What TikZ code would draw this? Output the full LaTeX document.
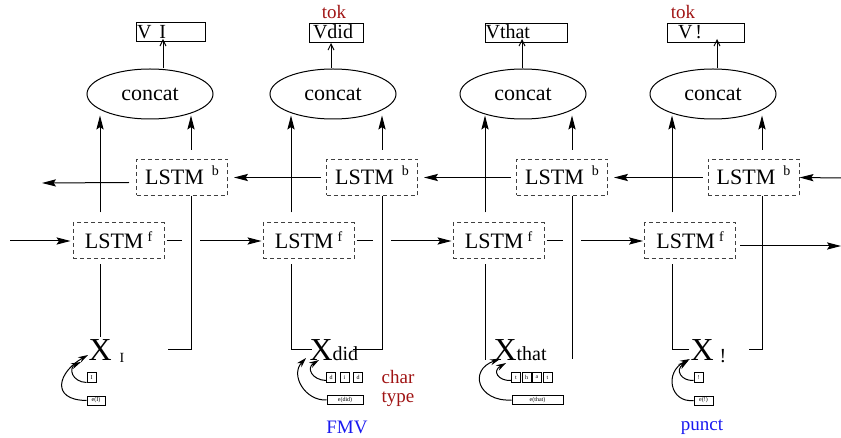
\documentclass[tikz,border=0pt]{standalone}
\usepackage{fontspec}
\setmainfont{Liberation Serif}
\usetikzlibrary{arrows.meta,shapes.geometric}
\definecolor{tokred}{RGB}{160,20,20}
\definecolor{lblblue}{RGB}{25,25,240}
\begin{document}
\begin{tikzpicture}[x=0.5pt,y=-0.5pt, line width=0.5pt,
  lstm/.style={draw=black!75, dash pattern=on 2pt off 1.5pt, minimum width=45.5pt, minimum height=18pt, inner sep=0pt, text height=7.3pt, text depth=0pt, font=\fontsize{11}{11}\selectfont},
  concatnode/.style={ellipse, draw, minimum width=63pt, minimum height=25pt, inner sep=0pt, font=\fontsize{11}{11}\selectfont},
  topbox/.style={draw, minimum height=9.5pt, inner ysep=0.75pt, text height=7pt, text depth=1pt, align=left, font=\fontsize{10}{10}\selectfont},
  xnode/.style={inner sep=0pt, anchor=base west},
  cbox/.style={draw, minimum width=4.5pt, minimum height=4.5pt, inner sep=0pt, font=\fontsize{3}{3}\selectfont},
  tbox/.style={draw, minimum height=4.5pt, inner sep=0pt, font=\fontsize{3}{3}\selectfont},
  arr/.style={-{Stealth[length=7pt,width=3.6pt,inset=1.2pt]}},
  openarr/.style={-{Straight Barb[length=3pt,width=3pt]}},
  curvarr/.style={-{Stealth[length=5pt,width=3pt]}},
  redlbl/.style={text=tokred, inner sep=0pt, font=\fontsize{9.5}{9.5}\selectfont},
  bluelbl/.style={text=lblblue, inner sep=0pt, font=\fontsize{9.5}{9.5}\selectfont},
]
\useasboundingbox (0,0) rectangle (841,438);

% column x positions
\coordinate (L1) at (100,0); \coordinate (R1) at (191,0);
\coordinate (L2) at (291,0); \coordinate (R2) at (382,0);
\coordinate (L3) at (485,0); \coordinate (R3) at (572,0);
\coordinate (L4) at (672,0); \coordinate (R4) at (762,0);

% top boxes
\node[topbox, minimum width=34.5pt, inner xsep=0.5pt, text width=33.5pt] (v1) at (170.5,32.5) {V\hspace{4pt}I};
\node[topbox, minimum width=27pt, inner xsep=2pt, text width=23pt] (v2) at (336,33) {Vdid};
\node[topbox, minimum width=41pt, inner xsep=0.3pt, text width=40.4pt] (v3) at (526,33) {Vthat};
\node[topbox, minimum width=38.5pt, inner xsep=5.5pt, text width=27.5pt] (v4) at (705.5,33) {V\hspace{1.5pt}!};

\node[redlbl] (tok2) at (334,12) {tok};
\node[redlbl] (tok4) at (683,12) {tok};

% concat
\node[concatnode] (cc1) at (150,94) {concat};
\node[concatnode] (cc2) at (333,94) {concat};
\node[concatnode] (cc3) at (523,94) {concat};
\node[concatnode] (cc4) at (713,94) {concat};

% LSTM b
\node[lstm] (lb1) at (182,177.5) {LSTM\hspace{4pt}\raisebox{4.5pt}{\fontsize{7}{7}\selectfont b}};
\node[lstm] (lb2) at (372,177.5) {LSTM\hspace{4pt}\raisebox{4.5pt}{\fontsize{7}{7}\selectfont b}};
\node[lstm] (lb3) at (562,177.5) {LSTM\hspace{4pt}\raisebox{4.5pt}{\fontsize{7}{7}\selectfont b}};
\node[lstm] (lb4) at (753.5,177.5) {LSTM\hspace{4pt}\raisebox{4.5pt}{\fontsize{7}{7}\selectfont b}};

% LSTM f
\node[lstm] (lf1) at (118.5,241) {LSTM\hspace{2pt}\raisebox{3.5pt}{\fontsize{7}{7}\selectfont f}};
\node[lstm] (lf2) at (308.5,241) {LSTM\hspace{2pt}\raisebox{3.5pt}{\fontsize{7}{7}\selectfont f}};
\node[lstm] (lf3) at (498.5,241) {LSTM\hspace{2pt}\raisebox{3.5pt}{\fontsize{7}{7}\selectfont f}};
\node[lstm] (lf4) at (690,241) {LSTM\hspace{2pt}\raisebox{3.5pt}{\fontsize{7}{7}\selectfont f}};

% X nodes
\node[xnode] (x1) at (88,360) {{\fontsize{16}{16}\selectfont X}\hspace{4pt}\raisebox{-1.5pt}{\fontsize{7}{7}\selectfont I}};
\node[xnode] (x2) at (309,361) {{\fontsize{16}{16}\selectfont X}{\fontsize{10}{10}\selectfont did}};
\node[xnode] (x3) at (493,361) {{\fontsize{16}{16}\selectfont X}{\fontsize{10}{10}\selectfont that}};
\node[xnode] (x4) at (690,360) {{\fontsize{16}{16}\selectfont X}\hspace{3pt}\raisebox{-1.5pt}{\fontsize{10}{10}\selectfont !}};

% char / type boxes
\node[cbox] (c1a) at (91.5,377.5) {I};
\node[tbox, minimum width=9pt] (t1) at (96,400.5) {e(I)};
\node[cbox] (c2a) at (331,377.5) {d};
\node[cbox] (c2b) at (344.5,377.5) {i};
\node[cbox] (c2c) at (358,377.5) {d};
\node[tbox, minimum width=18pt] (t2) at (345,400) {e(did)};
\node[cbox] (c3a) at (516,377.5) {t};
\node[cbox] (c3b) at (526.5,377.5) {h};
\node[cbox] (c3c) at (537,377.5) {a};
\node[cbox] (c3d) at (547.5,377.5) {t};
\node[tbox, minimum width=25.5pt] (t3) at (537.5,400) {e(that)};
\node[cbox] (c4a) at (698.5,377.5) {!};
\node[tbox, minimum width=9.5pt] (t4) at (703.5,400.5) {e(!)};

\node[redlbl] (charl) at (398,377) {char};
\node[redlbl] (typel) at (398,399) {type};
\node[bluelbl] (fmv) at (347,427) {FMV};
\node[bluelbl] (punct) at (702,427) {punct};

% arrows to top boxes
\coordinate (a1) at (163,39); \coordinate (a2) at (331,43);
\coordinate (a3) at (522,39); \coordinate (a4) at (717,39);
\draw[openarr] (a1 |- cc1.north) -- (a1);
\draw[openarr] (a2 |- cc2.north) -- (a2);
\draw[openarr] (a3 |- cc3.north) -- (a3);
\draw[openarr] (a4 |- cc4.north) -- (a4);

% arrows into concat
\draw[arr] ([yshift=5pt]lf1.north -| L1) -- ([yshift=2pt]L1 |- cc1.south);
\draw[arr] ([yshift=4.5pt]lb1.north -| R1) -- ([yshift=2pt]R1 |- cc1.south);
\draw[arr] ([yshift=5pt]lf2.north -| L2) -- ([yshift=2pt]L2 |- cc2.south);
\draw[arr] ([yshift=4.5pt]lb2.north -| R2) -- ([yshift=2pt]R2 |- cc2.south);
\draw[arr] ([yshift=5pt]lf3.north -| L3) -- ([yshift=2pt]L3 |- cc3.south);
\draw[arr] ([yshift=4.5pt]lb3.north -| R3) -- ([yshift=2pt]R3 |- cc3.south);
\draw[arr] ([yshift=5pt]lf4.north -| L4) -- ([yshift=2pt]L4 |- cc4.south);
\draw[arr] ([yshift=4.5pt]lb4.north -| R4) -- ([yshift=2pt]R4 |- cc4.south);

% lines from inputs
\coordinate (e1l) at (100,337); \coordinate (e1r) at (168,350);
\coordinate (e2l) at (312,350); \coordinate (e2r) at (353,350);
\coordinate (e3l) at (485,360); \coordinate (e3r) at (572,359);
\coordinate (e4l) at (689,350); \coordinate (e4r) at (749,350);
\draw ([yshift=-2.5pt]lf1.south -| L1) -- (e1l);
\draw (lb1.south -| R1) |- (e1r);
\draw ([yshift=-2.5pt]lf2.south -| L2) |- (e2l);
\draw (lb2.south -| R2) |- (e2r);
\draw ([yshift=-2.5pt]lf3.south -| L3) -- (e3l);
\draw (lb3.south -| R3) -- (e3r);
\draw ([yshift=-2.5pt]lf4.south -| L4) |- (e4l);
\draw (lb4.south -| R4) |- (e4r);

% forward chain
\coordinate (fin) at (10,241);
\coordinate (fout) at (841,246);
\draw[arr] (fin) -- ([xshift=-1pt]lf1.west);
\draw ([xshift=1pt]lf1.east) -- ([xshift=-4.5pt]lf1.east -| R1);
\draw[arr] ([xshift=4.5pt]lf1.east -| R1) -- ([xshift=-0.5pt]lf2.west);
\draw ([xshift=1pt]lf2.east) -- ([xshift=-4.5pt]lf2.east -| R2);
\draw[arr] ([xshift=4.5pt]lf2.east -| R2) -- ([xshift=-0.5pt]lf3.west);
\draw ([xshift=1pt]lf3.east) -- ([xshift=-4.5pt]lf3.east -| R3);
\draw[arr] ([xshift=4.5pt]lf3.east -| R3) -- ([xshift=-0.5pt]lf4.west);
\draw[arr] ([xshift=2pt,yshift=-2.5pt]lf4.east) -- (fout);

% backward chain
\coordinate (bin) at (841,178);
\coordinate (bout) at (42,183);
\draw[arr] (bin) -- (lb4.east);
\draw[arr] ([xshift=-2.5pt]lb4.west) -- ([xshift=3pt]lb3.east);
\draw[arr] ([xshift=-2.5pt]lb3.west) -- ([xshift=3pt]lb2.east);
\draw[arr] ([xshift=-2.5pt]lb2.west) -- ([xshift=3pt]lb1.east);
\draw[arr] ([xshift=-3.5pt,yshift=-2.5pt]lb1.west) -- (bout);

% curved arrows char/type -> X
\coordinate (p1o) at (88,355); \coordinate (p1i) at (81,362);
\coordinate (p2o) at (306,358); \coordinate (p2i) at (319,360);
\coordinate (p3o) at (500,359); \coordinate (p3i) at (506,363);
\coordinate (p4o) at (690,359); \coordinate (p4i) at (688,361);
\draw[curvarr] (t1.west) .. controls (50,400) and (58,372) .. (p1o);
\draw[curvarr] (c1a.south west) .. controls (72,382) and (68,368) .. (p1i);
\draw[curvarr] (t2.west) .. controls (305,401) and (290,375) .. (p2o);
\draw[curvarr] ([yshift=-1.5pt]c2a.west) .. controls (312,380) and (306,368) .. (p2i);
\draw[curvarr] (t3.west) .. controls (478,402) and (468,370) .. (p3o);
\draw[curvarr] ([yshift=-1.5pt]c3a.west) .. controls (498,381) and (492,371) .. (p3i);
\draw[curvarr] (t4.west) .. controls (670,403) and (664,372) .. (p4o);
\draw[curvarr] ([yshift=-1.5pt]c4a.west) .. controls (681,381) and (675,370) .. (p4i);
\end{tikzpicture}
\end{document}
